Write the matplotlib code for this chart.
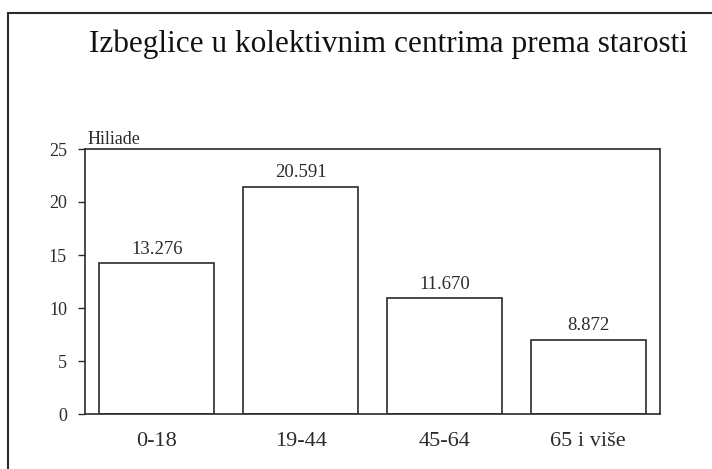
#!/usr/bin/env python3
"""Refugees in collective centres by age group (bar chart)."""

import matplotlib.pyplot as plt
from matplotlib.patches import Rectangle

# Data (bar heights in thousands, printed labels)
categories = ['0-18', '19-44', '45-64', '65 i više']
heights = [14.2, 21.45, 10.9, 7.0]
value_labels = ['13.276', '20.591', '11.670', '8.872']
yticks = [0, 5, 10, 15, 20, 25]

INK = '#2b2b2b'

plt.rcParams['font.family'] = ['Liberation Serif', 'DejaVu Serif']

fig = plt.figure(figsize=(7.12, 4.69), dpi=100)
W, H = 712, 469

# axes placed in pixel coordinates: left 85, right 660, top 149, bottom 414
ax = fig.add_axes([85 / W, 1 - 414 / H, (660 - 85) / W, (414 - 149) / H])

x = range(len(categories))
ax.bar(x, heights, width=0.8, facecolor='white', edgecolor=INK, linewidth=1.2)

for xi, h, lab in zip(x, heights, value_labels):
    ax.annotate(lab, xy=(xi, h), xytext=(0, 4), textcoords='offset points',
                ha='center', va='bottom', fontsize=13.5, color=INK)

ax.set_xlim(-0.5, len(categories) - 0.5)
ax.set_ylim(0, 25)
ax.set_yticks(yticks)
ax.set_xticks(list(x))
ax.set_xticklabels(categories, fontsize=16, color=INK)
ax.tick_params(axis='x', length=0, pad=13)
ax.tick_params(axis='y', length=5, width=1, color=INK, labelsize=13,
               labelcolor=INK, pad=8)
for sp in ax.spines.values():
    sp.set_color(INK)
    sp.set_linewidth(1.2)

ax.text(0.004, 1.02, 'Hiliade', transform=ax.transAxes, fontsize=13,
        ha='left', va='baseline', color=INK)

fig.text(388 / W, 1 - 52 / H, 'Izbeglice u kolektivnim centrima prema starosti',
         ha='center', va='baseline', fontsize=22.5, color='#111111')

# outer frame of the scanned figure
fig.patches.append(Rectangle((8 / W, -0.05), 1.2, 1 - 13 / H + 0.05,
                             transform=fig.transFigure, fill=False,
                             edgecolor=INK, linewidth=1.5))

fig.savefig('out.png', dpi=100)
